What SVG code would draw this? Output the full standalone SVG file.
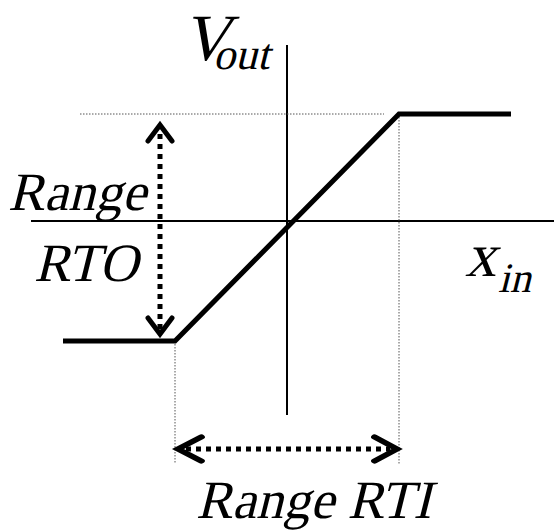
<svg xmlns="http://www.w3.org/2000/svg" width="554" height="531" viewBox="0 0 554 531">
<defs>
<polyline id="head" points="-12,16 0,0 12,16" fill="none" stroke="#000" stroke-width="5" stroke-linecap="round"/>
</defs>
<g id="axes" stroke="#000" stroke-width="2" fill="none">
<line x1="287" y1="45" x2="287" y2="415"/>
<line x1="31" y1="221" x2="554" y2="221"/>
</g>
<g id="guides" stroke="#555" stroke-width="1" stroke-dasharray="1.5 1.5" fill="none">
<line x1="80" y1="114" x2="384" y2="114"/>
<line x1="399" y1="114" x2="399" y2="464"/>
<line x1="175" y1="341" x2="175" y2="464"/>
</g>
<g id="transfer-curve">
<polyline points="63,341 175,341 399,114 511,114" fill="none" stroke="#000" stroke-width="5"/>
</g>
<g id="connectors">
<line x1="160" y1="134" x2="160" y2="330" stroke="#000" stroke-width="5" stroke-dasharray="5 5"/>
<use href="#head" transform="translate(160,125)"/>
<use href="#head" transform="translate(160,334) rotate(180)"/>
<line x1="186" y1="449" x2="390" y2="449" stroke="#000" stroke-width="5" stroke-dasharray="5 5"/>
<use href="#head" transform="translate(178,449) rotate(-90) scale(1,1.45)"/>
<use href="#head" transform="translate(397,449) rotate(90) scale(1,1.4)"/>
</g>
<text transform="translate(182,60) skewX(-14)" font-size="66" font-family="Liberation Serif, serif">V</text>
<text transform="translate(213,69) skewX(-14)" font-size="44" font-family="Liberation Serif, serif">out</text>
<text transform="translate(465,276) skewX(-14)" font-size="62" font-family="Liberation Serif, serif">x</text>
<text transform="translate(498,292) skewX(-14)" font-size="42" font-family="Liberation Serif, serif">in</text>
<text transform="translate(8,210) skewX(-14)" font-size="54" font-family="Liberation Serif, serif">Range</text>
<text transform="translate(34,281) skewX(-14)" font-size="54" font-family="Liberation Serif, serif">RTO</text>
<text transform="translate(196,518) skewX(-14)" font-size="54" font-family="Liberation Serif, serif">Range RTI</text>
</svg>
